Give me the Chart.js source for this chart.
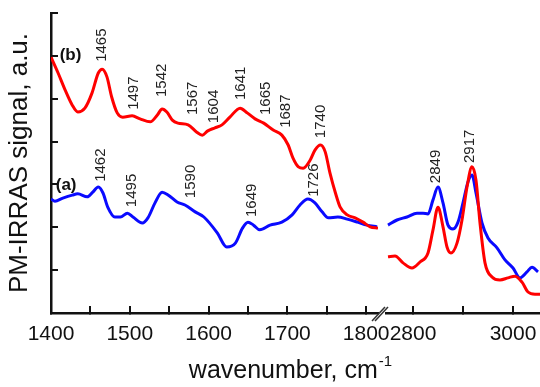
<!DOCTYPE html>
<html>
<head>
<meta charset="utf-8">
<script src="https://cdn.jsdelivr.net/npm/chart.js@4.4.0/dist/chart.umd.min.js"></script>
<style>
  html, body { margin: 0; padding: 0; background: #fff; }
  #wrap { position: relative; width: 540px; height: 387px; overflow: hidden; }
  #lowChart { position: absolute; left: 0; top: 0; }
  #highChart { position: absolute; left: 380px; top: 0; }
</style>
</head>
<body>
<div id="wrap">
  <canvas id="lowChart" width="540" height="387"></canvas>
  <canvas id="highChart" width="160" height="387"></canvas>
</div>
<script>
// values (wavenumber in cm-1, signal in a.u.)
const lowWnB = [1400,1409,1418,1427,1434,1443,1452,1460,1465,1471,1477,1484,1491,1503,1513,1526,1535,1541,1547,1554,1561,1574,1585,1592,1599,1608,1617,1627,1640,1649,1659,1670,1682,1693,1701,1707,1714,1720,1729,1735,1742,1748,1754,1761,1767,1776,1786,1796,1805,1815];
const lowB = [5.97,5.60,5.20,4.85,4.69,4.78,5.13,5.60,5.69,5.51,5.04,4.67,4.57,4.60,4.53,4.46,4.62,4.76,4.69,4.50,4.43,4.39,4.22,4.15,4.25,4.32,4.39,4.57,4.78,4.67,4.53,4.43,4.27,4.15,3.92,3.62,3.41,3.38,3.57,3.80,3.92,3.76,3.27,2.80,2.47,2.29,2.22,2.12,2.01,1.98];

const lowWnA = [1400,1405,1415,1427,1434,1446,1453,1460,1466,1472,1481,1488,1497,1504,1516,1523,1532,1541,1549,1560,1570,1583,1594,1611,1623,1634,1643,1650,1657,1665,1678,1693,1706,1716,1726,1735,1744,1752,1764,1776,1789,1801,1814];
const lowA = [2.66,2.61,2.68,2.75,2.78,2.71,2.82,2.94,2.80,2.47,2.24,2.24,2.33,2.24,2.10,2.22,2.57,2.82,2.75,2.59,2.52,2.36,2.24,1.87,1.54,1.63,1.98,2.12,2.05,1.94,2.05,2.12,2.29,2.52,2.66,2.57,2.36,2.22,2.24,2.19,2.12,2.05,2.01];

const highWnB = [2750,2764,2780,2798,2814,2830,2840,2850,2860,2868,2876,2888,2898,2908,2918,2926,2934,2944,2958,2974,2990,3004,3018,3030,3044,3054];
const highB = [1.31,1.33,1.17,1.05,1.19,1.40,1.94,2.47,2.01,1.54,1.40,1.63,2.17,2.94,3.41,3.10,2.10,1.17,0.84,0.77,0.82,0.86,0.72,0.49,0.44,0.44];

const highWnA = [2750,2768,2788,2808,2820,2830,2840,2850,2860,2870,2880,2890,2900,2910,2918,2926,2938,2950,2968,2984,3000,3014,3028,3038,3050];
const highA = [2.05,2.17,2.24,2.33,2.33,2.31,2.64,2.94,2.57,2.05,1.96,2.12,2.57,3.06,3.22,2.80,2.10,1.75,1.52,1.24,1.05,0.82,0.96,1.07,0.96];

// peak labels: text, anchor wavenumber, anchor signal (bottom end of the rotated text)
const lowPeakText = ['1465','1497','1542','1567','1604','1641','1665','1687','1740','1462','1495','1590','1649','1726'];
const lowPeakWn = [1465,1505,1541,1580,1607,1641,1673,1698,1743,1463,1502,1578,1655,1734];
const lowPeakSignal = [5.86,4.74,5.04,4.62,4.43,4.97,4.62,4.32,4.08,3.06,2.47,2.68,2.24,2.71];
const highPeakText = ['2849','2917'];
const highPeakWn = [2846,2914];
const highPeakSignal = [3.03,3.50];

// curve names
const curveNames = ['(b)', '(a)'];
const curveNameWn = [1411, 1406];
const curveNameSignal = [6.02, 2.99];

// tick marks and which of them carry a label
const lowTickMarks = [1400,1450,1500,1550,1600,1650,1700,1750,1800];
const lowTickLabels = [1400, 1500, 1600, 1700, 1800];
const highTickMarks = [2800, 2900, 3000];
const highTickLabels = [2800, 3000];
const signalTicks = [0,1,2,3,4,5,6,7];

const FONT = '"Liberation Sans", Arial, Helvetica, sans-serif';
const INK = '#111';

function points(xs, ys) {
  return xs.map((x, i) => ({ x: x, y: ys[i] }));
}

function drawRotated(chart, texts, wns, signals) {
  const ctx = chart.ctx;
  const xs = chart.scales.x, ys = chart.scales.y;
  ctx.save();
  ctx.fillStyle = '#222';
  ctx.font = '15px ' + FONT;
  ctx.textAlign = 'left';
  ctx.textBaseline = 'middle';
  texts.forEach((t, i) => {
    ctx.save();
    ctx.translate(xs.getPixelForValue(wns[i]), ys.getPixelForValue(signals[i]));
    ctx.rotate(-Math.PI / 2);
    ctx.fillText(t, 0, 0);
    ctx.restore();
  });
  ctx.restore();
}

function lineSet(data, color) {
  return {
    data: data,
    borderColor: color,
    borderWidth: 3,
    pointRadius: 0,
    fill: false,
    cubicInterpolationMode: 'monotone'
  };
}

function xAxis(min, max, marks, shown) {
  return {
    type: 'linear',
    min: min,
    max: max,
    afterBuildTicks: s => { s.ticks = marks.map(v => ({ value: v })); },
    afterFit: s => { s.height = 74; s.paddingLeft = 0; s.paddingRight = 0; },
    ticks: {
      autoSkip: false,
      maxRotation: 0,
      padding: 16,
      color: INK,
      font: { size: 21, family: FONT },
      callback: v => shown.includes(v) ? String(v) : ''
    },
    grid: { drawOnChartArea: false, drawTicks: true, tickLength: -7, color: INK, lineWidth: 2 },
    border: { display: true, color: INK, width: 2.5 }
  };
}

const lowExtras = {
  id: 'lowExtras',
  afterDraw(chart) {
    const ctx = chart.ctx;
    drawRotated(chart, lowPeakText, lowPeakWn, lowPeakSignal);

    // curve names
    ctx.save();
    ctx.fillStyle = INK;
    ctx.font = 'bold 17px ' + FONT;
    ctx.textAlign = 'left';
    ctx.textBaseline = 'middle';
    curveNames.forEach((n, i) => {
      ctx.fillText(n, chart.scales.x.getPixelForValue(curveNameWn[i]), chart.scales.y.getPixelForValue(curveNameSignal[i]));
    });

    // axis break mark
    const bx = chart.chartArea.right + 1, by = chart.chartArea.bottom;
    ctx.strokeStyle = '#333';
    ctx.lineWidth = 1.5;
    [0, 3].forEach(d => {
      ctx.beginPath();
      ctx.moveTo(bx - 7 + d, by + 8);
      ctx.lineTo(bx + 6 + d, by - 6);
      ctx.stroke();
    });

    // x axis title with superscript
    const main = 'wavenumber, cm';
    const sup = '-1';
    ctx.fillStyle = INK;
    ctx.textBaseline = 'alphabetic';
    ctx.font = '25px ' + FONT;
    const w1 = ctx.measureText(main).width;
    ctx.font = '15px ' + FONT;
    const w2 = ctx.measureText(sup).width;
    const x0 = 290 - (w1 + w2) / 2;
    ctx.font = '25px ' + FONT;
    ctx.fillText(main, x0, 378);
    ctx.font = '15px ' + FONT;
    ctx.fillText(sup, x0 + w1 + 1, 366);
    ctx.restore();
  }
};

const highExtras = {
  id: 'highExtras',
  afterDraw(chart) {
    drawRotated(chart, highPeakText, highPeakWn, highPeakSignal);
  }
};

new Chart(document.getElementById('lowChart'), {
  type: 'line',
  data: {
    datasets: [
      lineSet(points(lowWnB, lowB), '#ff0000'),
      lineSet(points(lowWnA, lowA), '#0a0aff')
    ]
  },
  options: {
    responsive: false,
    animation: false,
    layout: { padding: { top: 13, right: 162, left: 0, bottom: 0 } },
    plugins: { legend: { display: false }, tooltip: { enabled: false } },
    scales: {
      x: xAxis(1400, 1815, lowTickMarks, lowTickLabels),
      y: {
        min: 0,
        max: 7,
        afterBuildTicks: s => { s.ticks = signalTicks.map(v => ({ value: v })); },
        afterFit: s => { s.width = 51; s.paddingTop = 0; s.paddingBottom = 0; },
        ticks: { display: false },
        grid: { drawOnChartArea: false, drawTicks: true, tickLength: -7, color: INK, lineWidth: 2 },
        border: { display: true, color: INK, width: 2.5 },
        title: {
          display: true,
          text: 'PM-IRRAS signal, a.u.',
          color: INK,
          font: { size: 26, family: FONT },
          padding: { top: 4, bottom: 0 }
        }
      }
    }
  },
  plugins: [lowExtras]
});

new Chart(document.getElementById('highChart'), {
  type: 'line',
  data: {
    datasets: [
      lineSet(points(highWnB, highB), '#ff0000'),
      lineSet(points(highWnA, highA), '#0a0aff')
    ]
  },
  options: {
    responsive: false,
    animation: false,
    layout: { padding: { top: 13, right: 0, left: 6, bottom: 0 } },
    plugins: { legend: { display: false }, tooltip: { enabled: false } },
    scales: {
      x: xAxis(2746, 3054, highTickMarks, highTickLabels),
      y: { display: false, min: 0, max: 7 }
    }
  },
  plugins: [highExtras]
});
</script>
</body>
</html>
